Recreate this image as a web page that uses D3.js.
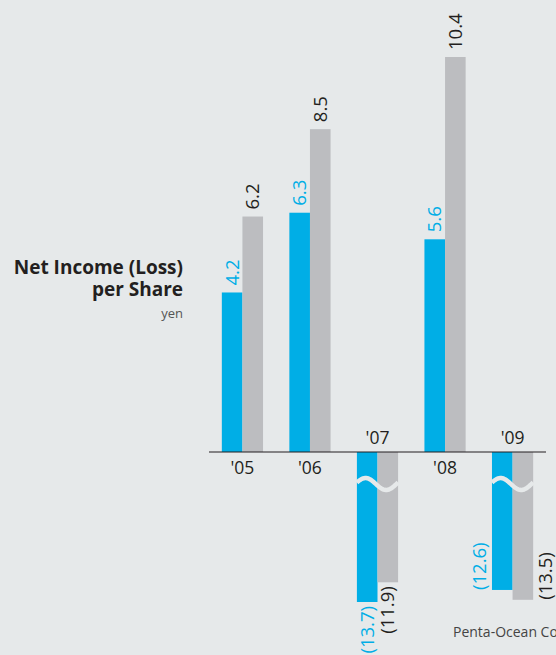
<!DOCTYPE html>
<html>
<head>
<meta charset="utf-8">
<script src="https://cdn.jsdelivr.net/npm/d3@7"></script>
<style>
  html, body { margin: 0; padding: 0; background: #e6e9ea; overflow: hidden; }
  svg { display: block; font-family: 'Open Sans', sans-serif; }
</style>
</head>
<body>
<svg id="chart" width="556" height="655"></svg>
<script>
const years = ["'05", "'06", "'07", "'08", "'09"];
const blueValues = [4.2, 6.3, -13.7, 5.6, -12.6];
const grayValues = [6.2, 8.5, -11.9, 10.4, -13.5];
// label side for negative bars: below the bar or beside it
const negLabelMode = ['below', 'below', 'below', 'below', 'side'];

const width = 556;
const height = 655;
const base_y = 452;

const blue = '#00aee6';
const gray = '#bcbdc0';
const dark = '#231f20';
const bg = '#e6e9ea';

const svg = d3.select('#chart');

svg.append('rect').attr('width', width).attr('height', height).attr('fill', bg);

// positive values use a tall scale, negatives a compressed (broken) one
const y_pos = d3.scaleLinear([0, 10.4], [base_y, 57]);
const y_neg = d3.scaleLinear([0, -13.7], [base_y, 602]);
const y_of = (v) => (v >= 0 ? y_pos(v) : y_neg(v));

const x = d3.scaleBand(years, [209, 546]).paddingInner(0.39).paddingOuter(0.19);
const bar_w = x.bandwidth() / 2;

const rows = years.map((year, i) => ({
  year,
  i,
  bars: [
    { key: 'blue', v: blueValues[i], color: blue, dx: 0 },
    { key: 'gray', v: grayValues[i], color: gray, dx: bar_w },
  ],
}));

const group = svg
  .append('g')
  .selectAll('g')
  .data(rows)
  .join('g')
  .attr('transform', (d) => `translate(${x(d.year)},0)`);

group
  .selectAll('rect')
  .data((d) => d.bars)
  .join('rect')
  .attr('x', (d) => d.dx)
  .attr('width', bar_w)
  .attr('y', (d) => Math.min(y_of(d.v), base_y))
  .attr('height', (d) => Math.abs(y_of(d.v) - base_y))
  .attr('fill', (d) => d.color);

// wave break for the compressed negative bars
const wave = (w) => {
  const pts = d3.range(0, 41).map((k) => {
    const t = k / 40;
    return [t * w, 484 - 6 * Math.sin(t * Math.PI * 2 + 0.25)];
  });
  return d3.line()(pts);
};
group
  .filter((d) => d.bars[0].v < 0)
  .append('path')
  .attr('d', wave(x.bandwidth()))
  .attr('fill', 'none')
  .attr('stroke', bg)
  .attr('stroke-width', 4.5);

const fmt = (v) => (v < 0 ? `(${Math.abs(v).toFixed(1)})` : v.toFixed(1));

group
  .selectAll('text.val')
  .data((d) => d.bars.map((b) => ({ ...b, mode: negLabelMode[d.i] })))
  .join('text')
  .attr('class', 'val')
  .attr('font-size', 18.5)
  .attr('fill', (d) => (d.key === 'blue' ? blue : dark))
  .attr('dy', '0.36em')
  .attr('transform', (d) => {
    let tx = d.dx + bar_w / 2;
    let ty;
    if (d.v >= 0) ty = y_of(d.v) - 7;
    else if (d.mode === 'below') {
      ty = y_of(d.v) + 4;
    } else {
      tx = d.key === 'blue' ? -bar_w / 2 - 2 : d.dx + bar_w * 1.5 + 2;
      ty = y_of(d.v);
    }
    return `translate(${tx},${ty}) rotate(-90)`;
  })
  .attr('text-anchor', (d) => {
    if (d.v >= 0) return 'start';
    return d.mode === 'below' ? 'end' : 'start';
  })
  .text((d) => fmt(d.v));

// baseline
svg
  .append('line')
  .attr('x1', 209)
  .attr('x2', 546)
  .attr('y1', base_y)
  .attr('y2', base_y)
  .attr('stroke', dark)
  .attr('stroke-width', 1.2);

// year labels: below the line for positive years, above for negative ones
group
  .append('text')
  .attr('x', bar_w)
  .attr('y', (d) => (d.bars[0].v >= 0 ? base_y + 22 : base_y - 8))
  .attr('text-anchor', 'middle')
  .attr('font-size', 17.5)
  .attr('fill', dark)
  .text((d) => d.year);

// title
const title = svg.append('g').attr('text-anchor', 'end').attr('fill', dark);
title
  .append('text')
  .attr('x', 183)
  .attr('y', 274)
  .attr('font-size', 19)
  .attr('font-weight', 'bold')
  .text('Net Income (Loss)');
title
  .append('text')
  .attr('x', 183)
  .attr('y', 296)
  .attr('font-size', 19)
  .attr('font-weight', 'bold')
  .text('per Share');
title
  .append('text')
  .attr('x', 183)
  .attr('y', 318)
  .attr('font-size', 13)
  .attr('fill', '#555')
  .text('yen');

svg
  .append('text')
  .attr('x', 453)
  .attr('y', 637)
  .attr('font-size', 14)
  .attr('fill', '#444')
  .text('Penta-Ocean Construction');
</script>
</body>
</html>
